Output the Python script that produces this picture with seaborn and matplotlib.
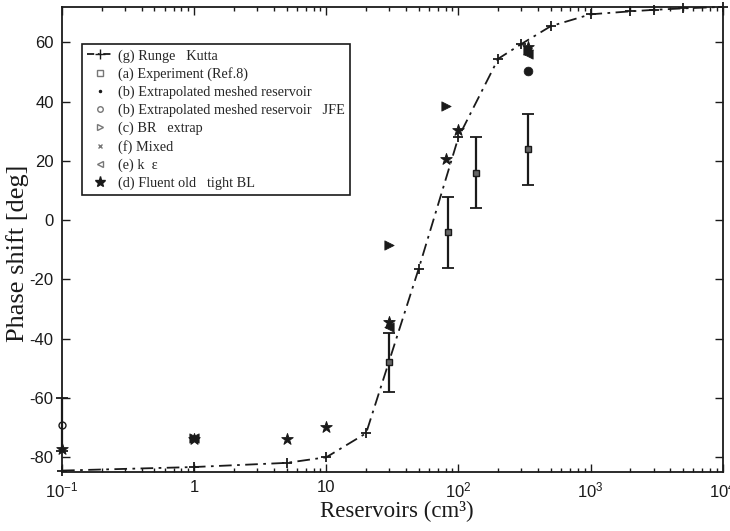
import numpy as np
import pandas as pd
import seaborn as sns
import matplotlib.pyplot as plt
from matplotlib.lines import Line2D

# (g) Runge Kutta curve
rk_x = [0.1, 1, 5, 10, 20, 50, 100, 200, 300, 500, 1000, 2000, 3000, 5000, 10000]
rk_y = [-84.5, -83.3, -81.9, -80.0, -71.9, -16.4, 28.0, 54.5, 59.5, 65.5, 69.5, 70.5, 71.0, 71.5, 72.0]

# (a) Experiment (Ref.8) with error bars
exp_x = [30, 83, 135, 335]
exp_y = [-48, -4, 16, 24]
exp_err = [10, 12, 12, 12]

# (b) JFE circle at smallest reservoir with error bar
jfe_x = [0.1]
jfe_y = [-69]
jfe_err = [9]

# (b) Extrapolated meshed reservoir
ext_x = [335]
ext_y = [50.5]

# (c) BR extrap
br_x = [1, 30, 80, 335]
br_y = [-73.5, -8.3, 38.5, 57.5]

# (f) Mixed
mix_x = [1, 30, 335]
mix_y = [-73.8, -35.0, 57.0]

# (e) k epsilon
ke_x = [1, 30, 335]
ke_y = [-73.6, -36.0, 56.0]

# (d) Fluent old tight BL
fl_x = [0.1, 1, 5, 10, 30, 80, 100, 335]
fl_y = [-77.3, -74.0, -74.0, -69.8, -34.5, 20.5, 30.5, 58.5]

sns.set_style("ticks")
plt.rcParams["axes.unicode_minus"] = False
plt.rcParams["mathtext.fontset"] = "custom"
plt.rcParams["mathtext.rm"] = "Liberation Sans"
plt.rcParams["mathtext.it"] = "Liberation Sans:italic"
plt.rcParams["mathtext.bf"] = "Liberation Sans:bold"

fig = plt.figure(figsize=(7.3, 5.31), dpi=100)
ax = fig.add_axes([0.085, 0.111, 0.905, 0.876])

k = "#1a1a1a"
dashdot = (0, (7, 3, 1.5, 3))
sns.lineplot(x=rk_x, y=rk_y, ax=ax, color=k, linestyle=dashdot,
             linewidth=1.3, marker="+", markersize=7, markeredgewidth=1.3,
             markeredgecolor=k, sort=False, clip_on=False)

ax.errorbar(exp_x, exp_y, yerr=exp_err, fmt="s", color=k, markersize=4,
            markerfacecolor="#666666", markeredgecolor=k, capsize=4.5,
            elinewidth=1.6, capthick=1.3, zorder=3)
eb = ax.errorbar(jfe_x, jfe_y, yerr=jfe_err, fmt="o", color=k, markersize=5,
                 markerfacecolor="none", capsize=4, elinewidth=1.6, capthick=1.3,
                 zorder=3)
for child in eb.get_children():
    child.set_clip_on(False)

sns.scatterplot(x=ext_x, y=ext_y, ax=ax, marker="o", s=40, color=k, edgecolor=k, zorder=4)
sns.scatterplot(x=br_x, y=br_y, ax=ax, marker=">", s=45, color=k, edgecolor=k, zorder=4)
sns.scatterplot(x=mix_x, y=mix_y, ax=ax, marker="x", s=30, color=k, linewidth=1.3, zorder=4)
sns.scatterplot(x=ke_x, y=ke_y, ax=ax, marker="<", s=45, color=k, edgecolor=k, zorder=4)
sns.scatterplot(x=fl_x, y=fl_y, ax=ax, marker="*", s=75, color=k, edgecolor=k,
                zorder=4, clip_on=False)

ax.set_xscale("log")
ax.set_xlim(0.1, 10000)
ax.set_ylim(-85, 72)
ax.set_yticks([-80, -60, -40, -20, 0, 20, 40, 60])
ax.set_xticks([0.1, 1, 10, 100, 1000, 10000])
ax.set_xticklabels([r"$10^{-1}$", "1", "10", r"$10^{2}$", r"$10^{3}$", r"$10^{4}$"])

ax.tick_params(which="both", direction="in", top=True, right=True, colors=k)
ax.tick_params(which="major", length=6, width=1, labelsize=12, pad=6)
ax.tick_params(which="minor", length=3, width=1)
for lab in ax.get_xticklabels() + ax.get_yticklabels():
    lab.set_family("Liberation Sans")
for s in ax.spines.values():
    s.set_color(k)
    s.set_linewidth(1.3)

ax.set_xlabel("Reservoirs (cm³)", family="Liberation Serif", fontsize=16.5, color=k)
ax.set_ylabel("Phase shift [deg]", family="Liberation Serif", fontsize=19, color=k)
ax.xaxis.set_label_coords(0.506, -0.062)
ax.yaxis.set_label_coords(-0.050, 0.471)

g = "#777777"
handles = [
    Line2D([], [], color=k, linestyle=(0, (4, 2, 1, 2)), linewidth=1.3, marker="+", markersize=7),
    Line2D([], [], linestyle="none", marker="s", markersize=4, markerfacecolor="none", markeredgecolor=g),
    Line2D([], [], linestyle="none", marker=".", markersize=3, color=k),
    Line2D([], [], linestyle="none", marker="o", markersize=4, markerfacecolor="none", markeredgecolor=g),
    Line2D([], [], linestyle="none", marker=">", markersize=4, markerfacecolor="none", markeredgecolor=g),
    Line2D([], [], linestyle="none", marker="x", markersize=3.5, color=g),
    Line2D([], [], linestyle="none", marker="<", markersize=4, markerfacecolor="none", markeredgecolor=g),
    Line2D([], [], linestyle="none", marker="*", markersize=8, color=k),
]
labels = ["(g) Runge   Kutta", "(a) Experiment (Ref.8)", "(b) Extrapolated meshed reservoir",
          "(b) Extrapolated meshed reservoir   JFE", "(c) BR   extrap", "(f) Mixed",
          "(e) k  ε", "(d) Fluent old   tight BL"]
leg = ax.legend(handles, labels, loc="upper left", bbox_to_anchor=(0.030, 0.920),
                prop={"family": "Liberation Serif", "size": 10.3}, frameon=True,
                fancybox=False, edgecolor=k, framealpha=1, handlelength=1.8,
                labelspacing=0.32, borderpad=0.35, handletextpad=0.4,
                borderaxespad=0)
leg.get_frame().set_linewidth(1.2)

fig.savefig("out.png", dpi=100)
